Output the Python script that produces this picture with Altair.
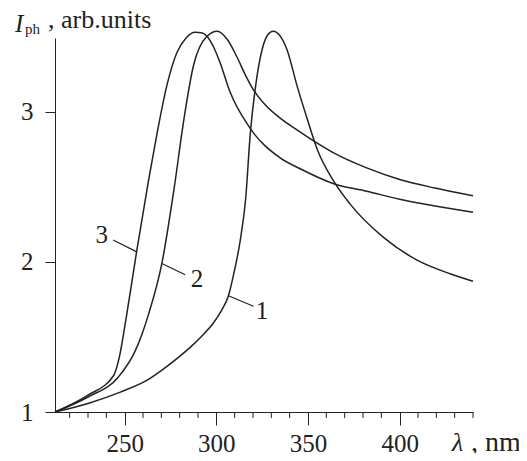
import altair as alt
import pandas as pd

# curve 1
lam1 = [212, 230, 248, 262, 270, 280, 286.6, 292, 298.5, 303, 306.6, 309.5, 313, 316, 318.5,
        321.2, 324.9, 328, 331, 338.5, 344, 349.5, 355, 364, 373, 391, 409.5, 427.5, 440]
val1 = [1.0, 1.057, 1.134, 1.21, 1.276, 1.37, 1.44, 1.505, 1.594, 1.68, 1.774, 1.92, 2.14, 2.42, 2.85,
        3.15, 3.41, 3.51, 3.535, 3.414, 3.173, 2.954, 2.75, 2.537, 2.384, 2.164, 2.011, 1.92, 1.87]
# curve 2
lam2 = [212, 230, 246.5, 255.5, 259.5, 263, 270.3, 277, 282.1, 287.5, 294.9, 300.5,
        306, 311, 316, 320, 327, 335, 345, 355, 364, 382, 400, 418.5, 440]
val2 = [1.0, 1.10, 1.232, 1.40, 1.52, 1.65, 1.99, 2.49, 2.932, 3.305, 3.502, 3.535,
        3.48, 3.37, 3.24, 3.15, 3.04, 2.955, 2.87, 2.79, 2.725, 2.625, 2.548, 2.493, 2.44]
# curve 3
lam3 = [212, 230, 244, 247, 251, 256.5, 263, 267.5, 273, 278.5, 283.5, 288.5, 292, 295, 298.5, 302,
        307.5, 318.5, 335, 346, 364, 382, 400, 418.5, 440]
val3 = [1.0, 1.112, 1.243, 1.36, 1.64, 2.066, 2.54, 2.844, 3.173, 3.393, 3.49, 3.528, 3.525, 3.50, 3.43, 3.327,
        3.13, 2.888, 2.69, 2.618, 2.52, 2.47, 2.416, 2.373, 2.33]

# curve labels and leader lines
lab_text = ["1", "2", "3"]
lab_x = [324.9, 289.4, 237.5]
lab_y = [1.671, 1.888, 2.178]
lead_x1 = [306.6, 270.3, 243.7]
lead_y1 = [1.774, 1.989, 2.145]
lead_x2 = [320.3, 283.0, 256.6]
lead_y2 = [1.704, 1.914, 2.066]

x_major = [250, 300, 350, 400]
x_minor = [220, 230, 240, 260, 270, 280, 290, 310, 320, 330, 340, 360, 370, 380, 390, 410, 420, 430, 440]
y_ticks = [1, 2, 3]

FONT = "Liberation Serif"
INK = "#222222"

rows = []
for name, ls, vs in (("1", lam1, val1), ("2", lam2, val2), ("3", lam3, val3)):
    for l, v in zip(ls, vs):
        rows.append({"lam": l, "val": v, "curve": name})
df = pd.DataFrame(rows)

labels = pd.DataFrame({"t": lab_text, "x": lab_x, "y": lab_y})
leads = pd.DataFrame({"x": lead_x1, "y": lead_y1, "x2": lead_x2, "y2": lead_y2})
minor = pd.DataFrame({"m": x_minor})

xscale = alt.Scale(domain=[212, 440], nice=False, zero=False)
yscale = alt.Scale(domain=[1, 3.49], nice=False, zero=False)

axis_common = dict(domain=True, ticks=True, domainColor=INK, tickColor=INK, domainWidth=1,
                   tickWidth=1, grid=False,
                   labelFont=FONT, labelColor=INK,
                   labelFontSize=25, title=None, labelFlush=False, labelOverlap=False)

H = 374

lines = alt.Chart(df).mark_line(interpolate="monotone", color=INK, strokeWidth=1.5).encode(
    x=alt.X("lam:Q", scale=xscale,
            axis=alt.Axis(values=x_major, tickSize=13, labelPadding=6, **axis_common)),
    y=alt.Y("val:Q", scale=yscale,
            axis=alt.Axis(values=y_ticks, tickSize=10, labelPadding=12, format="d",
                          **axis_common)),
    detail="curve:N",
)

minor_ticks = alt.Chart(minor).mark_rule(color=INK, strokeWidth=1).encode(
    x=alt.X("m:Q", scale=xscale),
    y=alt.value(H),
    y2=alt.value(H + 6),
)

rules = alt.Chart(leads).mark_rule(color=INK, strokeWidth=1.2).encode(
    x=alt.X("x:Q", scale=xscale),
    y=alt.Y("y:Q", scale=yscale),
    x2="x2:Q",
    y2="y2:Q",
)

texts = alt.Chart(labels).mark_text(font=FONT, fontSize=25, color=INK,
                                    align="center", baseline="middle").encode(
    x=alt.X("x:Q", scale=xscale),
    y=alt.Y("y:Q", scale=yscale),
    text="t:N",
)

one = pd.DataFrame({"k": [0]})

def note(txt, x, y, size, style="normal", align="left"):
    return alt.Chart(one).mark_text(font=FONT, fontSize=size, color=INK, fontStyle=style,
                                    align=align, baseline="alphabetic").encode(
        x=alt.value(x), y=alt.value(y), text=alt.value(txt))

title_I = note("I", -40, -6, 25, "italic")
title_ph = note("ph", -30, -4, 15)
title_rest = note(", arb.units", -7, -10, 26)
xt_lam = note("λ", 397, H + 39, 26, "italic")
xt_nm = note(", nm", 416, H + 39, 28)

chart = alt.layer(lines, minor_ticks, rules, texts, title_I, title_ph, title_rest,
                  xt_lam, xt_nm).properties(
    width=418, height=H,
    background="white",
    autosize=alt.AutoSizeParams(type="none"),
    padding={"left": 47, "top": 30, "right": 46, "bottom": 41},
).configure_view(strokeWidth=0)

chart.save("out.html", embed_options={"renderer": "svg", "actions": False})
